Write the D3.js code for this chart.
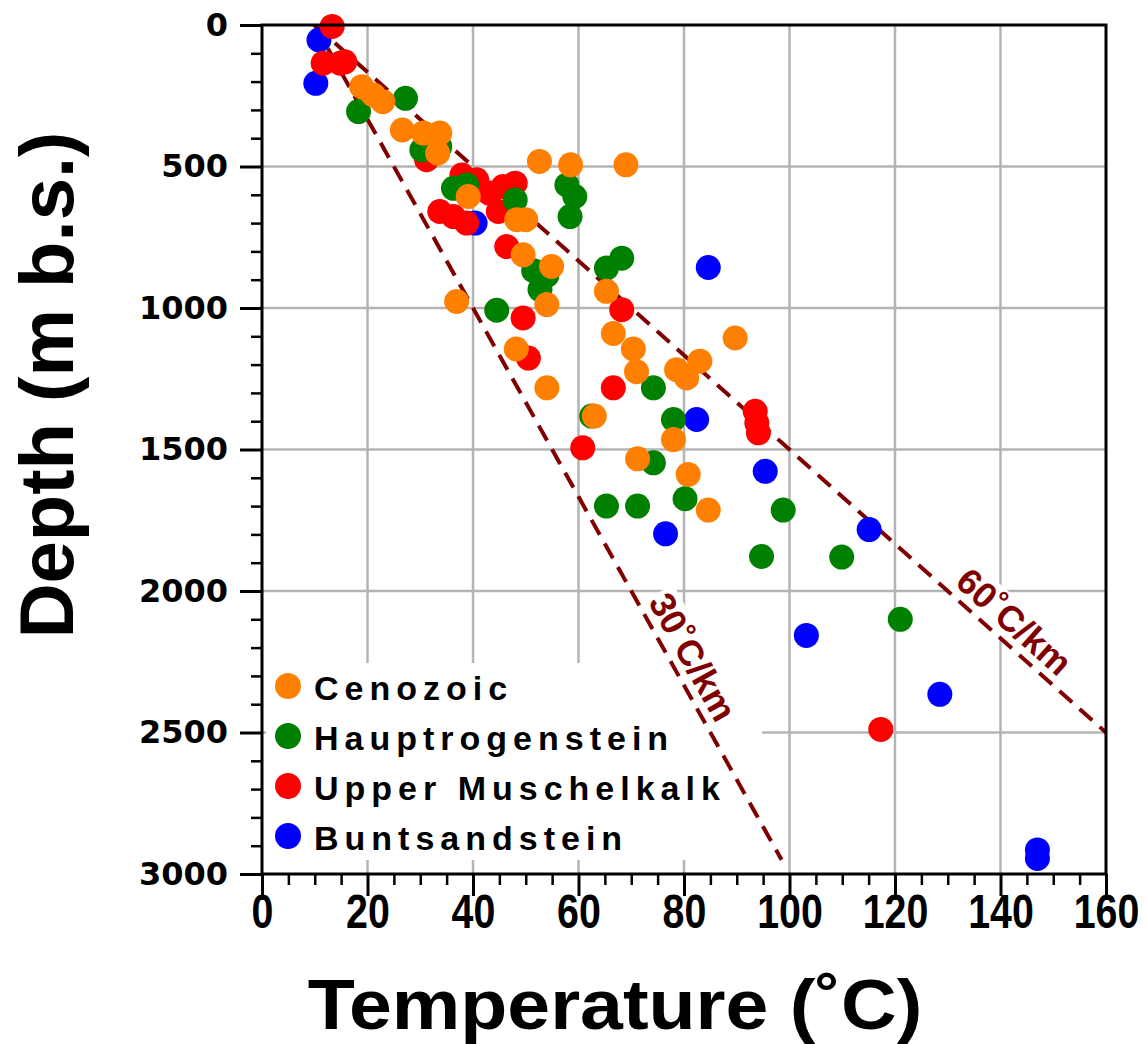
<!DOCTYPE html>
<html>
<head>
<meta charset="utf-8">
<script src="https://cdn.jsdelivr.net/npm/d3@7"></script>
<style>
  html, body { margin: 0; padding: 0; background: #fff; }
  svg { display: block; }
</style>
</head>
<body>
<svg id="chart" width="1147" height="1044"></svg>
<script>
// Temperature–depth measurements by stratigraphic unit
const temperatureTicks = [0, 20, 40, 60, 80, 100, 120, 140, 160];
const depthTicks = [0, 500, 1000, 1500, 2000, 2500, 3000];

const cenozoicTemp  = [18.9, 21.1, 22.9, 26.6, 30.6, 33.7, 33.3, 39.1, 48.3, 50.0, 52.6, 58.5, 69.0, 49.5, 54.9, 65.3, 54.0, 36.9, 66.6, 48.2, 70.4, 71.0, 54.0, 89.7, 78.6, 80.5, 83.0, 63.0, 78.0, 71.2, 80.8, 84.6];
const cenozoicDepth = [218, 247, 271, 371, 382, 382, 453, 606, 688, 688, 482, 494, 494, 812, 853, 941, 988, 977, 1090, 1145, 1145, 1225, 1282, 1106, 1218, 1247, 1188, 1382, 1465, 1533, 1588, 1714];

const hauptTemp  = [27.2, 18.3, 30.3, 33.7, 36.3, 38.8, 48.0, 57.8, 59.3, 58.4, 68.2, 65.3, 51.5, 54.0, 52.7, 44.5, 74.2, 62.5, 78.0, 74.2, 65.3, 71.2, 80.2, 98.8, 94.7, 109.9, 121.0];
const hauptDepth = [259, 306, 441, 430, 577, 565, 618, 565, 606, 677, 824, 859, 868, 885, 935, 1008, 1282, 1382, 1394, 1547, 1700, 1700, 1674, 1714, 1878, 1880, 2100];

const muschelTemp  = [13.3, 11.6, 14.8, 15.7, 31.2, 37.9, 40.7, 43.1, 45.7, 48.0, 44.8, 33.7, 36.3, 38.8, 46.4, 68.2, 49.5, 50.5, 66.6, 60.8, 93.5, 93.8, 94.1, 117.3];
const muschelDepth = [5, 135, 135, 130, 476, 530, 547, 594, 571, 559, 659, 659, 677, 700, 783, 1006, 1035, 1177, 1282, 1494, 1365, 1406, 1441, 2489];

const buntTemp  = [10.8, 10.2, 40.4, 84.6, 82.4, 95.4, 76.5, 115.1, 103.2, 128.5, 147.0, 147.0];
const buntDepth = [53, 206, 700, 857, 1394, 1577, 1798, 1783, 2157, 2365, 2915, 2945];

const seriesNames  = ["Cenozoic", "Hauptrogenstein", "Upper Muschelkalk", "Buntsandstein"];
const seriesColors = ["#ff8000", "#008000", "#ff0000", "#0000ff"];

// Reference geothermal gradients (°C/km) from a 10 °C surface temperature
const gradients      = [30, 60];
const gradientLabels = ["30˚C/km", "60˚C/km"];
const surfaceTemp    = 10;
const gradientMaxDepth = [2950, 2500];
const gradientLabelDepth = [2270, 2165];

const series = [
  { name: seriesNames[0], color: seriesColors[0], t: cenozoicTemp, d: cenozoicDepth },
  { name: seriesNames[1], color: seriesColors[1], t: hauptTemp,    d: hauptDepth },
  { name: seriesNames[2], color: seriesColors[2], t: muschelTemp,  d: muschelDepth },
  { name: seriesNames[3], color: seriesColors[3], t: buntTemp,     d: buntDepth }
];

const svg = d3.select("#chart");
const x = d3.scaleLinear().domain([0, 160]).range([262, 1106]);
const y = d3.scaleLinear().domain([0, 3000]).range([25, 874]);

const gridColor = "#b4b4b4";
const dark = "#800000";

// grid
const grid = svg.append("g");
grid.selectAll("line.vx").data(temperatureTicks.slice(1, -1)).join("line")
  .attr("x1", d => x(d)).attr("x2", d => x(d))
  .attr("y1", y(0)).attr("y2", y(3000))
  .attr("stroke", gridColor).attr("stroke-width", 2.5);
grid.selectAll("line.hy").data(depthTicks.slice(1, -1)).join("line")
  .attr("y1", d => y(d)).attr("y2", d => y(d))
  .attr("x1", x(0)).attr("x2", x(160))
  .attr("stroke", gridColor).attr("stroke-width", 2.5);

const bgLayer = svg.append("g");
const lineLayer = svg.append("g");
const labelLayer = svg.append("g");
const legendLayer = svg.append("g");
const pointLayer = svg.append("g");

// legend background
bgLayer.append("rect")
  .attr("x", x(0) + 4).attr("y", 663)
  .attr("width", 762 - (x(0) + 4)).attr("height", 197)
  .attr("fill", "#fff");

// gradient lines and labels
gradients.forEach((g, i) => {
  const depths = [0, gradientMaxDepth[i]];
  const line = d3.line().x(d => x(surfaceTemp + g * d / 1000)).y(d => y(d));
  lineLayer.append("path")
    .attr("d", line(depths))
    .attr("fill", "none")
    .attr("stroke", dark)
    .attr("stroke-width", 4)
    .attr("stroke-dasharray", "17,10");

  const angle = Math.atan2(y(1000) - y(0), x(surfaceTemp + g) - x(surfaceTemp)) * 180 / Math.PI;
  const ld = gradientLabelDepth[i];
  const cx = x(surfaceTemp + g * ld / 1000), cy = y(ld);
  const tf = `translate(${cx},${cy}) rotate(${angle}) translate(0,-22)`;
  const txt = labelLayer.append("text")
    .attr("transform", tf)
    .attr("text-anchor", "middle")
    .attr("dy", "0.36em")
    .attr("font-family", "'Liberation Sans', Arial, sans-serif")
    .attr("font-weight", "bold")
    .attr("font-size", 36)
    .attr("fill", dark)
    .text(gradientLabels[i]);
  const bb = txt.node().getBBox();
  bgLayer.append("rect")
    .attr("transform", tf)
    .attr("x", bb.x - 3).attr("y", bb.y + 2)
    .attr("width", bb.width + 6).attr("height", bb.height - 2)
    .attr("fill", "#fff");
});

// data points (Buntsandstein first, Cenozoic on top)
[3, 2, 1, 0].forEach(k => {
  const s = series[k];
  pointLayer.append("g").selectAll("circle")
    .data(s.t.map((t, j) => [t, s.d[j]]))
    .join("circle")
    .attr("cx", d => x(d[0]))
    .attr("cy", d => y(d[1]))
    .attr("r", 12.5)
    .attr("fill", s.color);
});

// legend
series.forEach((s, i) => {
  const by = 700 + i * 50;
  legendLayer.append("circle")
    .attr("cx", 288).attr("cy", by - 14).attr("r", 13).attr("fill", s.color);
  legendLayer.append("text")
    .attr("x", 314).attr("y", by)
    .attr("font-family", "'Liberation Sans', Arial, sans-serif")
    .attr("font-weight", "bold")
    .attr("font-size", 34)
    .attr("letter-spacing", 6)
    .attr("fill", "#000")
    .text(s.name);
});

// axes frame
const axisLayer = svg.append("g");
axisLayer.append("rect")
  .attr("x", x(0)).attr("y", y(0))
  .attr("width", x(160) - x(0)).attr("height", y(3000) - y(0))
  .attr("fill", "none").attr("stroke", "#000").attr("stroke-width", 3);

const xMinor = d3.range(0, 161, 5).filter(v => v % 20 !== 0);
const yMinor = d3.range(0, 3001, 100).filter(v => v % 500 !== 0);

// x axis
const xAxis = axisLayer.append("g").attr("transform", `translate(0,${y(3000)})`)
  .call(d3.axisBottom(x).tickValues(temperatureTicks).tickSize(22).tickPadding(4).tickFormat(d3.format("d")));
xAxis.select(".domain").remove();
xAxis.selectAll(".tick line").attr("stroke-width", 3);
xAxis.selectAll(".tick text")
  .attr("font-family", "'Liberation Sans', Arial, sans-serif")
  .attr("font-weight", "bold")
  .attr("font-size", 48)
  .attr("fill", "#000")
  .attr("dy", null)
  .attr("y", 0)
  .attr("transform", "translate(0,54) scale(0.82,1)");
axisLayer.append("g").attr("transform", `translate(0,${y(3000)})`)
  .call(d3.axisBottom(x).tickValues(xMinor).tickSize(11).tickFormat(""))
  .call(g => g.select(".domain").remove())
  .selectAll(".tick line").attr("stroke-width", 2.5);

// y axis
const yAxis = axisLayer.append("g").attr("transform", `translate(${x(0)},0)`)
  .call(d3.axisLeft(y).tickValues(depthTicks).tickSize(22).tickPadding(12).tickFormat(d3.format("d")));
yAxis.select(".domain").remove();
yAxis.selectAll(".tick line").attr("stroke-width", 3);
yAxis.selectAll(".tick text")
  .attr("font-family", "'DejaVu Sans', sans-serif")
  .attr("font-weight", "bold")
  .attr("font-size", 32)
  .attr("fill", "#000");
axisLayer.append("g").attr("transform", `translate(${x(0)},0)`)
  .call(d3.axisLeft(y).tickValues(yMinor).tickSize(11).tickFormat(""))
  .call(g => g.select(".domain").remove())
  .selectAll(".tick line").attr("stroke-width", 2.5);

// axis titles
svg.append("text")
  .attr("transform", "translate(615,1029) scale(1.1,1)")
  .attr("text-anchor", "middle")
  .attr("font-family", "'Liberation Sans', Arial, sans-serif")
  .attr("font-weight", "bold")
  .attr("font-size", 70)
  .attr("fill", "#000")
  .text("Temperature (˚C)");
svg.append("text")
  .attr("transform", "translate(73,385) rotate(-90)")
  .attr("text-anchor", "middle")
  .attr("font-family", "'Liberation Sans', Arial, sans-serif")
  .attr("font-weight", "bold")
  .attr("font-size", 76)
  .attr("fill", "#000")
  .text("Depth (m b.s.)");
</script>
</body>
</html>
